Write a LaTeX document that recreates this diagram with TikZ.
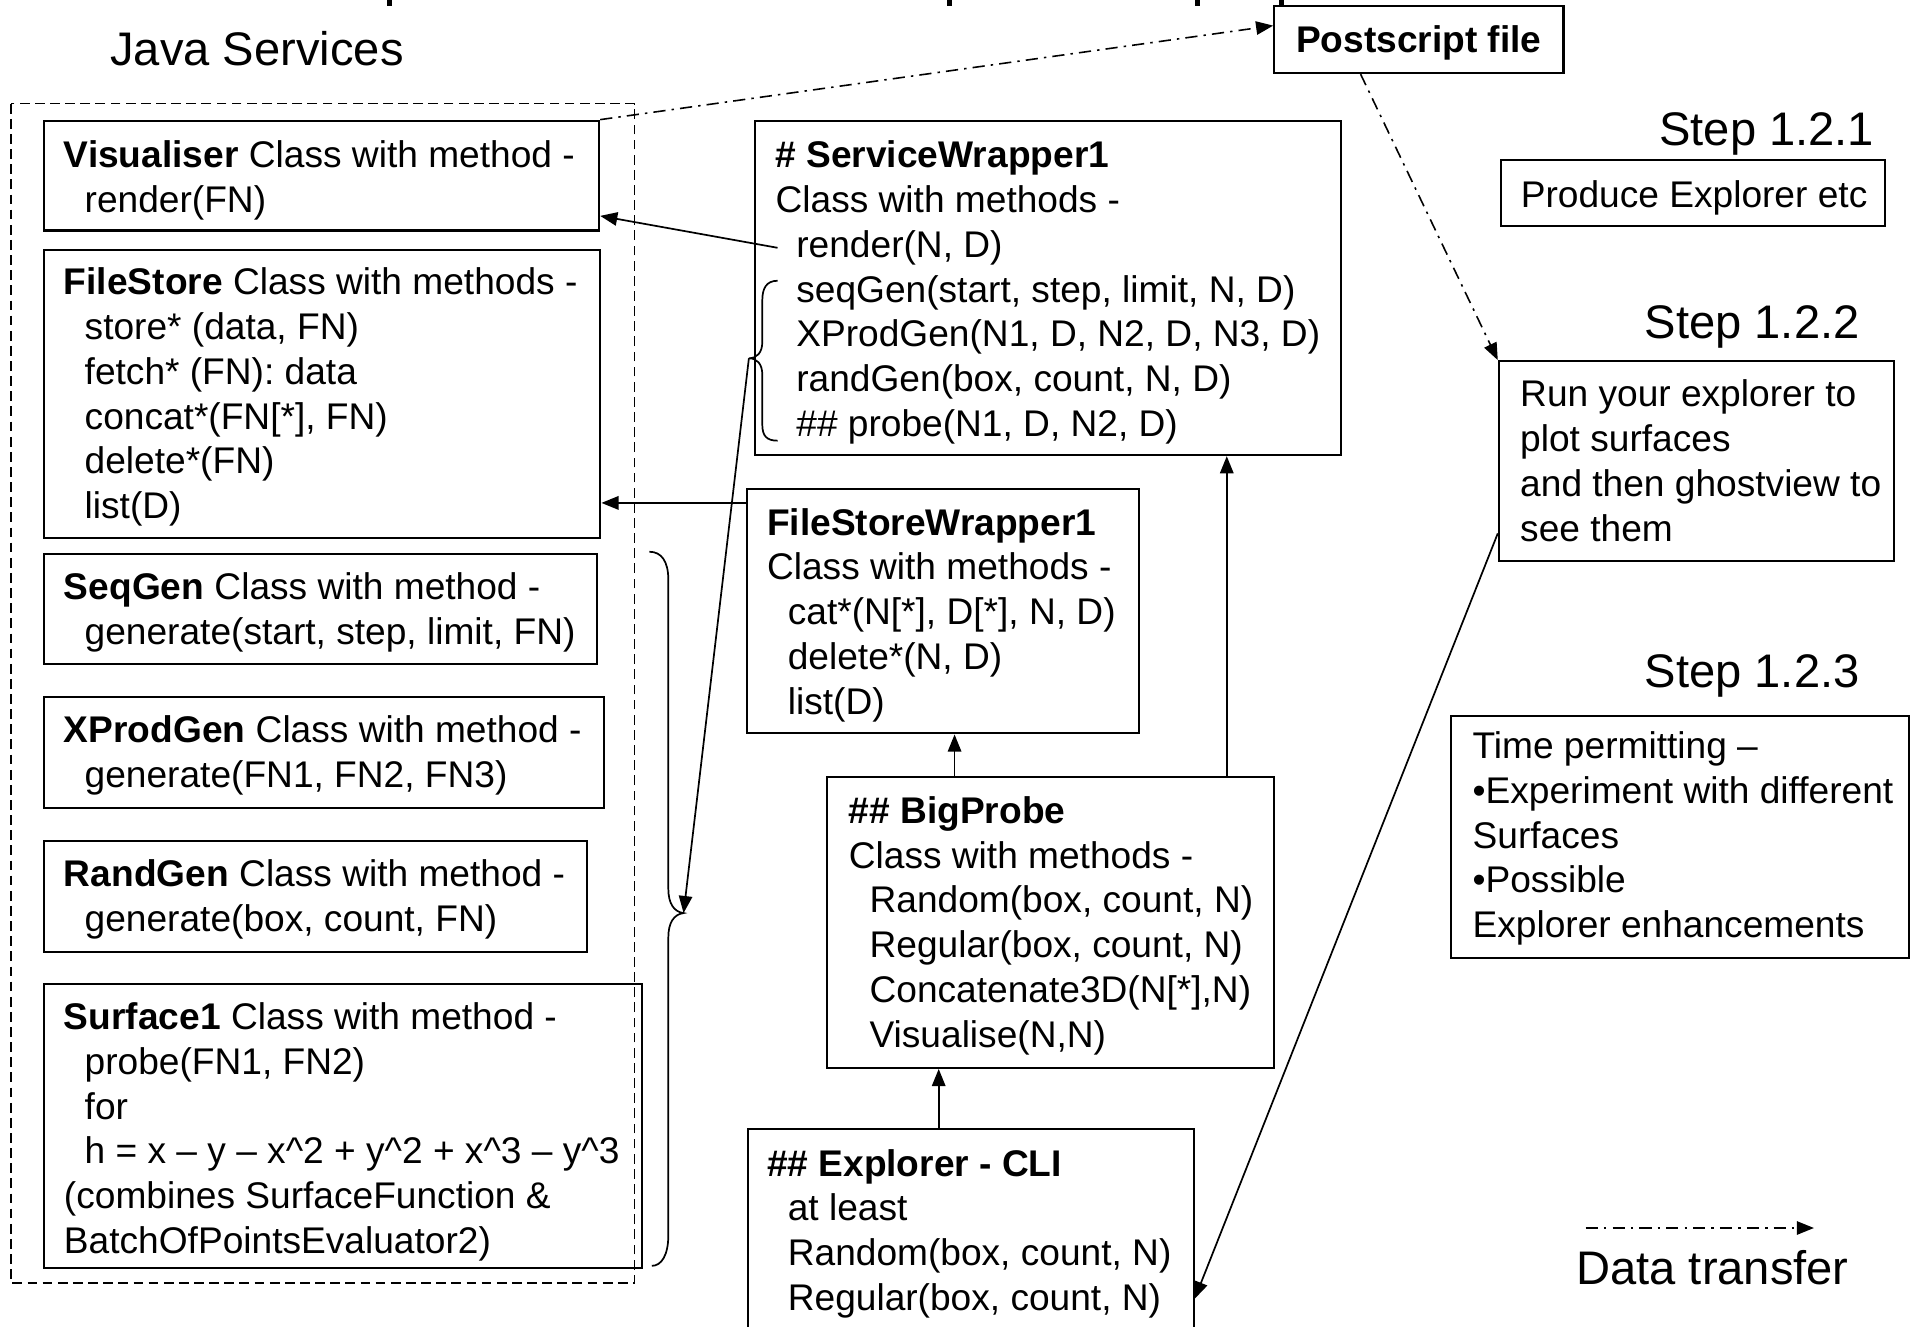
\documentclass[tikz,border=0pt]{standalone}
\usepackage{fontspec}
\setmainfont{Liberation Sans}
\usetikzlibrary{arrows.meta,calc}
\newcommand{\bodyfont}{\fontsize{15.2pt}{18.35pt}\selectfont}
\newcommand{\bigfont}{\fontsize{19.3pt}{23pt}\selectfont}
\newcommand{\fl}{\rule{0pt}{12pt}}
\newcommand{\ind}{\hspace*{8.5pt}}
\tikzset{
  box/.style={draw, line width=0.85pt, inner sep=0pt, anchor=north west},
  sz/.style 2 args={minimum width=#1*0.5pt, minimum height=#2*0.5pt},
  txt/.style={inner sep=0pt, anchor=north west, align=left, font=\bodyfont},
  lbl/.style={inner sep=0pt, anchor=base west, font=\bigfont},
  conn/.style={line width=0.7pt, -{Triangle[length=7pt,width=5.5pt]}},
  dashdot/.style={line width=0.65pt, dash pattern=on 5pt off 2.5pt on 1pt off 2.5pt, -{Triangle[length=7pt,width=5.5pt]}},
  container/.style={line width=0.6pt, dash pattern=on 4pt off 2.2pt},
  curly/.style={line width=0.7pt},
}
\begin{document}
\begin{tikzpicture}[x=0.5pt,y=-0.5pt]
\useasboundingbox (0,0) rectangle (1568,1087);
\clip (0,0) rectangle (1568,1087);
\fill[white] (0,0) rectangle (1568,1087);
% cut-off title fragments
\fill (317,0) rectangle (321,5);
\fill (776,0) rectangle (780,5);
\fill (979,0) rectangle (983,5);
\fill (1048,0) rectangle (1052,4);
% left column boxes
\node[box, sz={455}{90}] (vis) at (35,98) {};
\node[box, sz={456}{236}] (fs) at (35,204) {};
\node[box, sz={453}{90}] (seq) at (35,453) {};
\node[box, sz={459}{91}] (xp) at (35,570) {};
\node[box, sz={445}{91}] (rg) at (35,688) {};
\node[box, sz={490}{233}] (sf) at (35,805) {};
\draw[container] (9,85) rectangle (520,1051);
% middle boxes
\node[box, sz={480}{274}] (sw) at (618,98) {};
\node[box, sz={321}{200}] (fsw) at (611,400) {};
\node[box, sz={366}{238}] (bp) at (677,636) {};
\node[box, sz={365}{200}] (ex) at (612,924) {};
% right boxes
\node[box, sz={237}{55}] (ps) at (1043,4) {};
\node[box, sz={314}{54}] (s1) at (1229,130) {};
\node[box, sz={324}{164}] (s2) at (1227,295) {};
\node[box, sz={375}{198}] (s3) at (1188,586) {};
% texts
\node[txt] (visT) at (52,113) {\fl\textbf{Visualiser} Class with method -\\\ind render(FN)};
\node[txt] (fsT) at (52,217) {\fl\textbf{FileStore} Class with methods -\\\ind store* (data, FN)\\\ind fetch* (FN): data\\\ind concat*(FN[*], FN)\\\ind delete*(FN)\\\ind list(D)};
\node[txt] (seqT) at (52,467) {\fl\textbf{SeqGen} Class with method -\\\ind generate(start, step, limit, FN)};
\node[txt] (xpT) at (52,584) {\fl\textbf{XProdGen} Class with method -\\\ind generate(FN1, FN2, FN3)};
\node[txt] (rgT) at (52,702) {\fl\textbf{RandGen} Class with method -\\\ind generate(box, count, FN)};
\node[txt] (sfT) at (52,819) {\fl\textbf{Surface1} Class with method -\\\ind probe(FN1, FN2)\\\ind for\\\ind h = x – y – x\textasciicircum2 + y\textasciicircum2 + x\textasciicircum3 – y\textasciicircum3\\(combines SurfaceFunction \&\\BatchOfPointsEvaluator2)};
\node[txt] (swT) at (635,113) {\fl\textbf{\# ServiceWrapper1}\\Class with methods -\\\ind render(N, D)\\\ind seqGen(start, step, limit, N, D)\\\ind XProdGen(N1, D, N2, D, N3, D)\\\ind randGen(box, count, N, D)\\\ind \#\# probe(N1, D, N2, D)};
\node[txt] (fswT) at (628,414) {\fl\textbf{FileStoreWrapper1}\\Class with methods -\\\ind cat*(N[*], D[*], N, D)\\\ind delete*(N, D)\\\ind list(D)};
\node[txt] (bpT) at (695,650) {\fl\textbf{\#\# BigProbe}\\Class with methods -\\\ind Random(box, count, N)\\\ind Regular(box, count, N)\\\ind Concatenate3D(N[*],N)\\\ind Visualise(N,N)};
\node[txt] (exT) at (628,939) {\fl\textbf{\#\# Explorer - CLI}\\\ind at least\\\ind Random(box, count, N)\\\ind Regular(box, count, N)};
\node[txt] (s2T) at (1245,309) {\fl Run your explorer to\\plot surfaces\\and then ghostview to\\see them};
\node[txt] (s3T) at (1206,597) {\fl Time permitting –\\•Experiment with different\\Surfaces\\•Possible\\Explorer enhancements};
\node[inner sep=0pt, font=\bodyfont\bfseries] (psT) at ($(ps.center)+(0,3)$) {Postscript file};
\node[inner sep=0pt, font=\bodyfont] (s1T) at ($(s1.center)+(1,4)$) {Produce Explorer etc};
% large labels
\node[lbl] (javaL) at (90,54) {Java Services};
\node[lbl] (st1) at (1359,119) {Step 1.2.1};
\node[lbl] (st2) at (1347,277) {Step 1.2.2};
\node[lbl] (st3) at (1347,563) {Step 1.2.3};
\node[lbl] (dtL) at (1291,1052) {Data transfer};
% braces
\coordinate (sbt) at (613.5,293.5);
\coordinate (bbt) at (560,748);
\draw[curly] (637,230) .. controls (628,230) and (624.5,236) .. (624.5,246) -- (624.5,280) .. controls (624.5,289) and (620,293.5) .. (sbt) .. controls (620,293.5) and (624.5,298) .. (624.5,307) -- (624.5,348) .. controls (624.5,357) and (628,361) .. (637,361);
\draw[curly] (532,452) .. controls (542,452) and (547.5,460) .. (547.5,475) -- (547.5,728) .. controls (547.5,740) and (552,747) .. (bbt) .. controls (552,749) and (547.5,756) .. (547.5,768) -- (547.5,1012) .. controls (547.5,1028) and (542,1037) .. (534,1037);
% connectors
\draw[conn] (sbt) -- (bbt);
\draw[dashdot] (vis.north east) -- ($(ps.north west)!0.3!(ps.south west)$);
\draw[dashdot] ($(ps.south west)!0.3!(ps.south east)$) -- (s2.north west);
\draw[conn] ($(sw.north west)+(19,105)$) -- ($(vis.north east)!0.86!(vis.south east)$);
\coordinate (a) at ($(fsw.north west)+(0,12)$);
\draw[conn] (a) -- (a -| fs.east);
\coordinate (b) at ($(bp.north west)+(105,0)$);
\draw[conn] (b) -- (b |- fsw.south);
\coordinate (c) at ($(bp.north west)+(328,0)$);
\draw[conn] (c) -- (c |- sw.south);
\coordinate (d) at ($(ex.north west)+(157,0)$);
\draw[conn] (d) -- (d |- bp.south);
\draw[conn] ($(s2.north west)+(0,142)$) -- ($(ex.north east)+(0,140)$);
% legend
\coordinate (l1) at (1299,1006);
\coordinate (l2) at (1486,1006);
\draw[dashdot] (l1) -- (l2);
\end{tikzpicture}
\end{document}
